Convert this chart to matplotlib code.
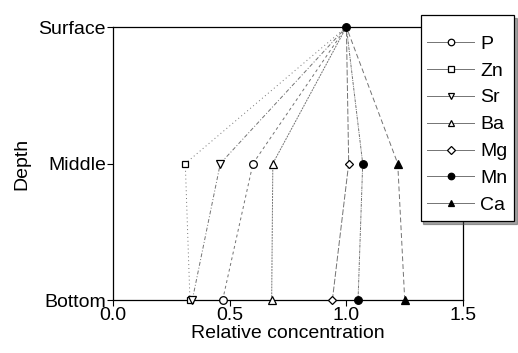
import matplotlib.pyplot as plt
import numpy as np

plt.rcParams['font.family'] = ['Liberation Sans', 'DejaVu Sans']

depths = ['Bottom', 'Middle', 'Surface']
elements = ['P', 'Zn', 'Sr', 'Ba', 'Mg', 'Mn', 'Ca']
# relative concentration at bottom, middle, surface
P  = [0.47, 0.60, 1.0]
Zn = [0.33, 0.31, 1.0]
Sr = [0.34, 0.46, 1.0]
Ba = [0.68, 0.685, 1.0]
Mg = [0.94, 1.01, 1.0]
Mn = [1.05, 1.07, 1.0]
Ca = [1.25, 1.22, 1.0]
series = [P, Zn, Sr, Ba, Mg, Mn, Ca]

markers = ['o', 's', 'v', '^', 'D', 'o', '^']
fills = ['white', 'white', 'white', 'white', 'white', 'black', 'black']
sizes = [5.5, 4.5, 5.5, 5.5, 4.5, 5.5, 5.5]
dashes = [(0, (3, 3)), (0, (1, 3)), (0, (4, 2, 1, 2)), (0, (2, 1)),
          (0, (6, 2)), (0, (3, 1, 1, 1)), (0, (5, 3))]

fig = plt.figure(figsize=(5.18, 3.53), dpi=100)
ax = fig.add_axes([0.218, 0.150, 0.676, 0.7735])

y = np.arange(len(depths))
for name, vals, m, fc, ms, ls in zip(elements, series, markers, fills, sizes, dashes):
    # shared surface point is shown once, as the Mn dot
    every = None if name == 'Mn' else [0, 1]
    ax.plot(vals, y, linestyle=ls, color='0.45', lw=0.7, marker=m, ms=ms,
            mfc=fc, mec='black', mew=0.9, label=name, clip_on=False,
            zorder=4 if name == 'Mn' else 3, markevery=every)

ax.set_xlim(0, 1.5)
ax.set_ylim(0, 2)
ax.set_xticks([0, 0.5, 1.0, 1.5])
ax.set_xticklabels(['0.0', '0.5', '1.0', '1.5'])
ax.set_yticks(y)
ax.set_yticklabels(depths)
ax.tick_params(direction='out', length=4, width=0.8, labelsize=14, pad=1)
ax.set_xlabel('Relative concentration', fontsize=14, labelpad=1)
ax.set_ylabel('Depth', fontsize=14, labelpad=6)
for s in ax.spines.values():
    s.set_linewidth(0.9)

# tiny blank title just to give the box extra room on top
leg = ax.legend(loc='upper left', bbox_to_anchor=(0.812, 0.958),
                bbox_transform=fig.transFigure, fontsize=14, frameon=True,
                fancybox=False, shadow=True, edgecolor='black', numpoints=1,
                title=' ', title_fontsize=2,
                handlelength=2.4, labelspacing=0.48,
                borderpad=0.35, handletextpad=0.3, markerscale=0.85,
                borderaxespad=0)
leg.get_frame().set_linewidth(0.9)
leg.set_zorder(5)
for line in leg.get_lines():
    line.set_linestyle('-')
    line.set_markevery([1])

fig.savefig('out.png', dpi=100)
